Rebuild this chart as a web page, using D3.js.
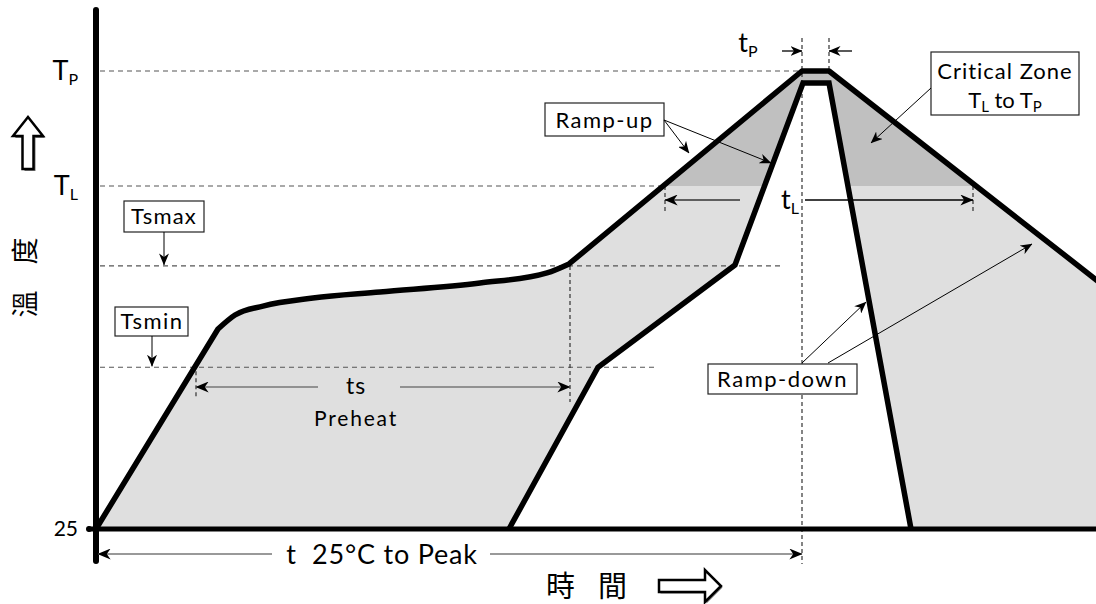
<!DOCTYPE html>
<html><head><meta charset="utf-8">
<script src="https://cdn.jsdelivr.net/npm/d3@7"></script>
<style>
body{margin:0;background:#fff;}
svg{display:block;font-family:Lato,"Liberation Sans",sans-serif;}
</style></head><body>
<svg id="chart" width="1096" height="604"></svg>
<script>
// ---------- data (time in arbitrary units, temperature in °C-like units) ----------
const levelLabels = ["25", "T|P", "T|L"];
const levelValues = [25, 260, 201];
const tsMin = 108, tsMax = 160, tL = 201, tP = 260;

// outer (slow) profile: straight ramp, curved soak, straight ramp to peak, cool down
const outerRampTime = [0, 61];
const outerRampTemp = [25, 127.6];
const outerSoakTime = [61, 69.5, 83.5, 108.5, 142, 192, 225.5, 236.5];
const outerSoakTemp = [127.6, 134.8, 139.4, 143.5, 146.6, 151.2, 156.4, 161];
const outerPeakTime = [236.5, 353, 366.5, 520];
const outerPeakTemp = [161, 260, 260, 136.9];

// inner (fast) profile
const innerTime = [206.5, 251, 319.5, 353.5, 366.5, 407.5];
const innerTemp = [25, 108, 160.5, 253.8, 253.8, 25];

// time marks
const tsStart = 50, tsEnd = 237, tLStart = 284.5, tLEnd = 438.5, tpStart = 353, tpEnd = 366.5;

// ---------- scales ----------
const svg = d3.select("#chart");
const x = d3.scaleLinear().domain([0, 500]).range([96, 1096]);
const y = d3.scaleLinear().domain([25, 260]).range([529, 71]);

const defs = svg.append("defs");
defs.append("clipPath").attr("id", "plotClip").append("rect")
  .attr("x", 0).attr("y", 0).attr("width", 1096).attr("height", 604);
defs.append("clipPath").attr("id", "hotClip").append("rect")
  .attr("x", 0).attr("y", 0).attr("width", 1096).attr("height", y(tL));

function marker(id, color, w, h) {
  defs.append("marker").attr("id", id)
    .attr("viewBox", "0 0 12 10").attr("refX", 11.5).attr("refY", 5)
    .attr("markerWidth", w).attr("markerHeight", h)
    .attr("markerUnits", "userSpaceOnUse").attr("orient", "auto-start-reverse")
    .append("path").attr("d", "M0,0 L12,5 L0,10 L3.5,5 Z").attr("fill", color);
}
marker("ah", "#000", 14, 11);
marker("ahs", "#000", 12, 10);

const zip = (a, b) => a.map((v, i) => [v, b[i]]);
const lin = d3.line().x(d => x(d[0])).y(d => y(d[1]));
const mono = d3.line().x(d => x(d[0])).y(d => y(d[1])).curve(d3.curveMonotoneX);

const outerPath = lin(zip(outerRampTime, outerRampTemp)) +
  mono(zip(outerSoakTime, outerSoakTemp)).replace(/^M/, "L") +
  lin(zip(outerPeakTime, outerPeakTemp)).replace(/^M/, "L");
const innerPath = lin(zip(innerTime, innerTemp));

const lastT = outerPeakTime[outerPeakTime.length - 1];
const outerClosed = outerPath + "L" + x(lastT) + "," + y(25) + "Z";
const innerClosed = innerPath + "Z";

const g = svg.append("g").attr("clip-path", "url(#plotClip)");

// fills
g.append("path").attr("d", outerClosed + innerClosed)
  .attr("fill", "#dfdfdf").attr("fill-rule", "evenodd");
g.append("path").attr("d", outerClosed + innerClosed)
  .attr("fill", "#c0c0c0").attr("fill-rule", "evenodd")
  .attr("clip-path", "url(#hotClip)");

// dashed reference lines
const dashH = [[tP, 2, tpStart], [tL, 2, tLStart], [tsMax, 2, 342], [tsMin, 2, 280.5]];
dashH.forEach(d => {
  g.append("line").attr("x1", x(d[1])).attr("x2", x(d[2]))
    .attr("y1", y(d[0])).attr("y2", y(d[0]))
    .attr("stroke", "#555").attr("stroke-width", 1.2).attr("stroke-dasharray", "5,4");
});
const vdash = (t, y1, y2) => g.append("line").attr("x1", x(t)).attr("x2", x(t))
  .attr("y1", y1).attr("y2", y2).attr("stroke", "#333")
  .attr("stroke-width", 1.2).attr("stroke-dasharray", "4,3");
vdash(tpStart, 38, 564);
vdash(tpEnd, 38, y(tP));
vdash(tsEnd, y(tsMax), 402);
vdash(tsStart, y(tsMin) + 4, 398);
vdash(tLStart, y(tL), 212);
vdash(tLEnd, y(tL), 212);

// profile strokes
g.append("path").attr("d", outerPath).attr("fill", "none").attr("stroke", "#000")
  .attr("stroke-width", 5.5).attr("stroke-linejoin", "round");
g.append("path").attr("d", innerPath).attr("fill", "none").attr("stroke", "#000")
  .attr("stroke-width", 5.5).attr("stroke-linejoin", "miter");

// axes
svg.append("line").attr("x1", x(0)).attr("x2", x(0)).attr("y1", 10).attr("y2", 561)
  .attr("stroke", "#000").attr("stroke-width", 6).attr("stroke-linecap", "round");
svg.append("line").attr("x1", x(0) - 8).attr("x2", 1096).attr("y1", y(25)).attr("y2", y(25))
  .attr("stroke", "#000").attr("stroke-width", 5);
svg.append("circle").attr("cx", x(0) - 7).attr("cy", y(25)).attr("r", 3).attr("fill", "#000");

const yAxis = d3.axisLeft(y).tickValues(levelValues).tickSize(0).tickPadding(14)
  .tickFormat((d, i) => levelLabels[i]);
const ya = svg.append("g").attr("transform", `translate(${x(0) - 4},0)`).call(yAxis);
ya.select(".domain").remove();
ya.selectAll(".tick text").each(function (d, i) {
  const parts = levelLabels[i].split("|");
  const t = d3.select(this).text(null).attr("font-family", "Lato, sans-serif")
    .attr("fill", "#000").attr("font-size", parts.length > 1 ? 27 : 21);
  t.append("tspan").text(parts[0]);
  if (parts.length > 1) t.append("tspan").attr("font-size", 16).attr("dy", 5).text(parts[1]);
});

// text helper
function txt(xp, yp, s, size, anchor, extra) {
  const t = svg.append("text").attr("x", xp).attr("y", yp).attr("font-size", size)
    .attr("text-anchor", anchor || "middle").attr("fill", "#000");
  if (extra) extra(t); else t.text(s);
  return t;
}
function sub(t, main, subs, subSize) {
  t.append("tspan").text(main);
  t.append("tspan").attr("font-size", subSize).attr("dy", 5).text(subs);
}

// ts / Preheat
const tsMid = 356;
svg.append("line").attr("x1", x(tsStart)).attr("x2", 318).attr("y1", 387).attr("y2", 387)
  .attr("stroke", "#777").attr("stroke-width", 1.5).attr("marker-start", "url(#ah)");
svg.append("line").attr("x1", 400).attr("x2", x(tsEnd)).attr("y1", 387).attr("y2", 387)
  .attr("stroke", "#777").attr("stroke-width", 1.5).attr("marker-end", "url(#ah)");
txt(tsMid, 394, "ts", 23).attr("letter-spacing", 1);
txt(tsMid, 426, "Preheat", 21).attr("letter-spacing", 1.8);

// t 25°C to Peak
svg.append("line").attr("x1", x(0) + 2).attr("x2", 272).attr("y1", 554).attr("y2", 554)
  .attr("stroke", "#777").attr("stroke-width", 1.5).attr("marker-start", "url(#ah)");
svg.append("line").attr("x1", 490).attr("x2", x(tpStart)).attr("y1", 554).attr("y2", 554)
  .attr("stroke", "#777").attr("stroke-width", 1.5).attr("marker-end", "url(#ah)");
txt(382, 564, "t  25°C to Peak", 27).attr("letter-spacing", 0.8).style("white-space", "pre");

// tL
svg.append("line").attr("x1", x(tLStart)).attr("x2", 740).attr("y1", 200).attr("y2", 200)
  .attr("stroke", "#333").attr("stroke-width", 1.5).attr("marker-start", "url(#ah)");
svg.append("line").attr("x1", 805).attr("x2", x(tLEnd)).attr("y1", 200).attr("y2", 200)
  .attr("stroke", "#000").attr("stroke-width", 1.5).attr("marker-end", "url(#ah)");
txt(790, 209, null, 27, "middle", t => sub(t, "t", "L", 16));

// tP
svg.append("line").attr("x1", 782).attr("x2", x(tpStart)).attr("y1", 51).attr("y2", 51)
  .attr("stroke", "#000").attr("stroke-width", 1.3).attr("marker-end", "url(#ahs)");
svg.append("line").attr("x1", 852).attr("x2", x(tpEnd)).attr("y1", 51).attr("y2", 51)
  .attr("stroke", "#000").attr("stroke-width", 1.3).attr("marker-end", "url(#ahs)");
txt(748, 52, null, 27, "middle", t => sub(t, "t", "P", 16));

// callout boxes
function box(x0, y0, w, h) {
  svg.append("rect").attr("x", x0).attr("y", y0).attr("width", w).attr("height", h)
    .attr("fill", "#fff").attr("stroke", "#222").attr("stroke-width", 1.2);
}
function pointer(x1, y1, x2, y2) {
  svg.append("line").attr("x1", x1).attr("y1", y1).attr("x2", x2).attr("y2", y2)
    .attr("stroke", "#000").attr("stroke-width", 1).attr("marker-end", "url(#ahs)");
}
box(124, 201, 80, 31); txt(164, 224, "Tsmax", 22).attr("letter-spacing", 1.2);
pointer(164, 232, 164, y(tsMax) - 1);
box(115, 307, 73, 29); txt(152, 329, "Tsmin", 22).attr("letter-spacing", 1.5);
pointer(152, 336, 152, y(tsMin) - 1);
box(545, 103, 119, 33); txt(604.5, 128, "Ramp-up", 22).attr("letter-spacing", 1.5);
pointer(664, 120, 689, 153);
pointer(664, 120, 771, 163);
box(931, 52, 148, 63);
txt(1005, 79, "Critical Zone", 22).attr("letter-spacing", 1);
txt(1005, 108, null, 22, "middle", t => {
  t.append("tspan").text("T");
  t.append("tspan").attr("font-size", 15).attr("dy", 4).text("L");
  t.append("tspan").attr("dy", -4).text(" to T");
  t.append("tspan").attr("font-size", 15).attr("dy", 4).text("P");
});
pointer(931, 88, 871, 143);
box(708, 364, 149, 30); txt(782.5, 387, "Ramp-down", 22).attr("letter-spacing", 1.5);
pointer(802, 363, 866, 302);
pointer(828, 363, 1032, 244);

// axis titles (CJK)
const yTitle = ["溫", "度"], yTitleY = [304, 251];
yTitle.forEach((c, i) => {
  svg.append("text").attr("transform", `translate(35,${yTitleY[i]}) rotate(-90)`)
    .attr("text-anchor", "middle").attr("font-family", "'Noto Sans CJK TC'")
    .attr("font-size", 27).attr("fill", "#000").text(c);
});
const xTitle = ["時", "間"], xTitleX = [560.5, 612.5];
xTitle.forEach((c, i) => {
  svg.append("text").attr("x", xTitleX[i]).attr("y", 597).attr("text-anchor", "middle")
    .attr("font-family", "'Noto Sans CJK TC'").attr("font-size", 29).attr("fill", "#000").text(c);
});

// hollow arrows
const shadowUp = "M28,117 L43,136 L33.5,136 L33.5,169 L22.5,169 L22.5,136 L13,136 Z";
svg.append("path").attr("d", shadowUp).attr("transform", "translate(2,2)").attr("fill", "#777");
svg.append("path").attr("d", shadowUp).attr("fill", "#fff").attr("stroke", "#000").attr("stroke-width", 2.5)
  .attr("stroke-linejoin", "miter");
const rightArr = "M659,580 L705,580 L705,570 L721,586 L705,602 L705,592 L659,592 Z";
svg.append("path").attr("d", rightArr).attr("transform", "translate(1.5,1.5)").attr("fill", "#777");
svg.append("path").attr("d", rightArr).attr("fill", "#fff").attr("stroke", "#000").attr("stroke-width", 2.5);
</script>
</body></html>
